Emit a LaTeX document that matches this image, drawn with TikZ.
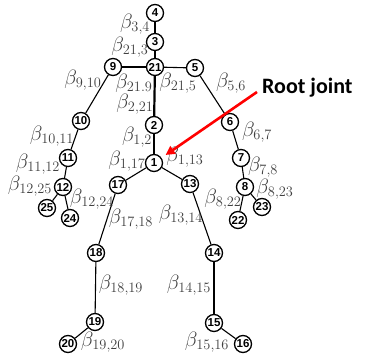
\documentclass[tikz,border=0pt]{standalone}
\usepackage{fontspec}
\newfontfamily\jointfont{Liberation Sans}
\newfontfamily\calloutfont{Carlito}
\usetikzlibrary{arrows.meta}
\begin{document}
\begin{tikzpicture}[x=1pt,y=-1pt,
  joint/.style={circle,draw,line width=1.3pt,minimum size=17pt,inner sep=0pt,
    fill=white,font=\jointfont\bfseries\fontsize{11.5}{13}\selectfont},
  bone/.style={line width=1.1pt},
  spine/.style={line width=2.2pt},
  beta/.style={text=black!75,inner sep=0pt,font=\fontsize{19.5}{21}\selectfont},
  callout/.style={inner sep=0pt,font=\calloutfont\bfseries\fontsize{22}{24}\selectfont},
  pointer/.style={red,line width=2.6pt,-{Triangle[length=9pt,width=9pt]},shorten >=5pt}]
\useasboundingbox (0,0) rectangle (369,358);

% joints
\node[joint] (n4)  at (155,13)  {4};
\node[joint] (n3)  at (155,42)  {3};
\node[joint] (n21) at (155,67)  {21};
\node[joint] (n9)  at (113,67)  {9};
\node[joint] (n5)  at (195,68)  {5};
\node[joint] (n2)  at (154,125) {2};
\node[joint] (n1)  at (154,163) {1};
\node[joint] (n10) at (81,121)  {10};
\node[joint] (n11) at (68,158)  {11};
\node[joint] (n12) at (63,187)  {12};
\node[joint] (n25) at (47,208)  {25};
\node[joint] (n24) at (70,218)  {24};
\node[joint] (n17) at (118,185) {17};
\node[joint] (n13) at (190,184) {13};
\node[joint] (n6)  at (230,122) {6};
\node[joint] (n7)  at (241,158) {7};
\node[joint] (n8)  at (245,187) {8};
\node[joint] (n23) at (262,207) {23};
\node[joint] (n22) at (238,220) {22};
\node[joint] (n18) at (96,253)  {18};
\node[joint] (n14) at (214,253) {14};
\node[joint] (n19) at (95,322)  {19};
\node[joint] (n15) at (214,323) {15};
\node[joint] (n20) at (68,344)  {20};
\node[joint] (n16) at (243,344) {16};

% bones
\draw[bone] (n4) -- (n3);
\draw[bone] (n3) -- (n21);
\draw[bone] (n21) -- (n9);
\draw[bone] (n21) -- (n5);
\draw[spine] (n21) -- (n2);
\draw[spine] (n2) -- (n1);
\draw[bone] (n9) -- (n10);
\draw[bone] (n10) -- (n11);
\draw[bone] (n11) -- (n12);
\draw[bone] (n12) -- (n25);
\draw[bone] (n12) -- (n24);
\draw[bone] (n5) -- (n6);
\draw[bone] (n6) -- (n7);
\draw[bone] (n7) -- (n8);
\draw[bone] (n8) -- (n23);
\draw[bone] (n8) -- (n22);
\draw[bone] (n1) -- (n17);
\draw[bone] (n1) -- (n13);
\draw[bone] (n17) -- (n18);
\draw[bone] (n13) -- (n14);
\draw[bone] (n18) -- (n19);
\draw[bone] (n14) -- (n15);
\draw[bone] (n19) -- (n20);
\draw[bone] (n15) -- (n16);

% bone parameters
\node[beta] (b34)   at (135,24)  {$\beta_{3,4}$};
\node[beta] (b213)  at (130,47)  {$\beta_{21,3}$};
\node[beta] (b219)  at (134,83.5){$\beta_{21.9}$};
\node[beta] (b215)  at (178,83)  {$\beta_{21,5}$};
\node[beta] (b221)  at (135,104) {$\beta_{2,21}$};
\node[beta] (b56)   at (231,83)  {$\beta_{5,6}$};
\node[beta] (b910)  at (83,80)   {$\beta_{9,10}$};
\node[beta] (b1011) at (52,136)  {$\beta_{10,11}$};
\node[beta] (b12)   at (137,137) {$\beta_{1,2}$};
\node[beta] (b1112) at (38,164)  {$\beta_{11,12}$};
\node[beta] (b117)  at (127,161) {$\beta_{1,17}$};
\node[beta] (b113)  at (185,157) {$\beta_{1,13}$};
\node[beta] (b1225) at (30,186)  {$\beta_{12,25}$};
\node[beta] (b1224) at (92,199)  {$\beta_{12,24}$};
\node[beta] (b1718) at (131,219) {$\beta_{17,18}$};
\node[beta] (b1314) at (181,215) {$\beta_{13,14}$};
\node[beta] (b67)   at (257,132) {$\beta_{6,7}$};
\node[beta] (b78)   at (263,167) {$\beta_{7,8}$};
\node[beta] (b823)  at (275,189) {$\beta_{8,23}$};
\node[beta] (b822)  at (223,199) {$\beta_{8,22}$};
\node[beta] (b1819) at (121,285) {$\beta_{18,19}$};
\node[beta] (b1415) at (189,285) {$\beta_{14,15}$};
\node[beta] (b1920) at (103,342) {$\beta_{19,20}$};
\node[beta] (b1516) at (207,342) {$\beta_{15,16}$};

% root joint callout
\node[callout,anchor=west] (root) at (262,88) {Root joint};
\coordinate (rt) at (257,92);
\draw[pointer] (rt) -- (n1);
\end{tikzpicture}
\end{document}
